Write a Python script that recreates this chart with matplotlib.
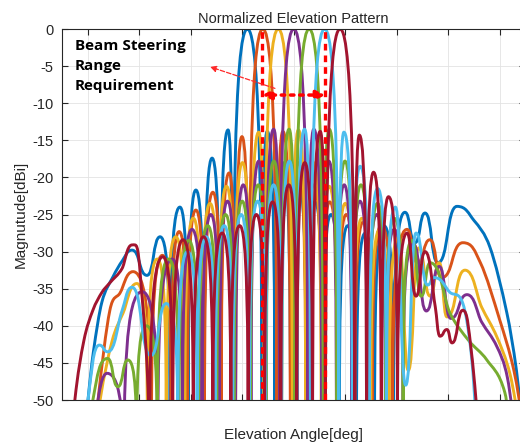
import matplotlib
matplotlib.use("Agg")
import matplotlib.pyplot as plt
from matplotlib.path import Path
from matplotlib.patches import PathPatch

plt.rcParams['font.family'] = ['Liberation Sans', 'DejaVu Sans']
plt.rcParams['axes.unicode_minus'] = False

# lobe peaks / nulls: (elevation angle [deg], magnitude [dB])
beam_m18 = [(-82.0, -58), (-79.9, -50), (-77.8, -43.5), (-74.5, -36.8), (-70.2, -33.4), (-66.5, -31.2),
            (-62.8, -29.8), (-57.0, -33.2), (-51.9, -28.0), (-48.0, -52), (-44.2, -24.0), (-41.0, -58),
            (-38.0, -21.7), (-34.8, -60), (-31.7, -17.4), (-28.6, -62), (-25.5, -13.6), (-23.7, -62),
            (-18.0, 0.0), (-12.3, -62), (-10.3, -13.8), (-7.3, -62), (-4.3, -18.0), (-1.2, -60),
            (1.9, -21.0), (5.0, -58), (8.2, -23.3), (11.3, -56), (14.5, -25.0), (17.7, -56),
            (21.0, -26.5), (24.4, -55), (27.8, -27.5), (31.4, -55), (35.0, -26.5), (38.8, -52),
            (43.2, -24.7), (47.1, -28.8), (51.0, -24.8), (56.0, -31.5), (63.4, -23.9), (70.0, -25.8),
            (76.2, -29.4), (82.8, -38.3), (86.5, -46.0), (89.0, -54)]

beam_m12 = [(-77.5, -57), (-76.0, -50), (-71.4, -37.9), (-67.5, -35.6), (-62.4, -32.7), (-55.3, -58),
            (-51.0, -30.5), (-47.6, -55), (-44.5, -27.3), (-41.3, -56), (-38.0, -24.4), (-34.7, -58),
            (-31.4, -22.0), (-28.2, -60), (-25.1, -19.4), (-22.6, -62), (-20.1, -14.5), (-17.5, -62),
            (-12.0, 0.0), (-6.5, -62), (-4.2, -13.8), (-1.3, -62), (1.7, -18.0), (4.7, -60),
            (7.8, -21.0), (10.9, -58), (14.0, -23.3), (17.2, -56), (20.4, -25.0), (23.7, -56),
            (27.0, -26.0), (30.5, -55), (34.0, -26.5), (38.3, -56), (44.0, -27.0), (48.0, -31.5),
            (52.9, -28.4), (57.5, -33.5), (65.7, -28.8), (72.5, -31.5), (80.0, -39.2), (85.5, -46.0),
            (89.5, -54)]

beam_m6 = [(-77.0, -56), (-75.2, -50), (-70.5, -42.0), (-66.3, -38.3), (-60.9, -34.3), (-56.8, -57),
           (-53.0, -31.0), (-49.5, -56), (-45.8, -28.0), (-42.3, -57), (-39.0, -25.5), (-35.8, -57),
           (-32.5, -23.5), (-29.3, -58), (-26.1, -21.2), (-23.0, -60), (-19.9, -18.0), (-16.8, -62),
           (-13.6, -13.9), (-11.5, -62), (-6.0, 0.0), (-0.5, -62), (1.8, -13.6), (4.7, -62),
           (7.7, -18.0), (10.7, -60), (13.8, -21.2), (16.9, -58), (20.0, -23.5), (23.2, -57),
           (26.5, -25.5), (29.9, -56), (33.4, -27.0), (37.0, -56), (40.8, -28.0), (44.5, -46),
           (48.5, -29.5), (53.0, -36.0), (56.5, -31.5), (59.5, -38.8), (66.5, -32.5), (73.0, -37.5),
           (78.9, -41.5), (84.0, -46.5), (88.0, -54)]

beam_0 = [(-79.5, -60), (-72.5, -46.4), (-66.0, -62), (-58.9, -35.4), (-52.8, -58), (-47.2, -31.0),
          (-43.2, -57), (-39.5, -27.0), (-35.6, -58), (-32.2, -25.0), (-28.9, -58), (-25.7, -23.2),
          (-22.6, -59), (-19.6, -21.0), (-16.6, -60), (-13.6, -17.8), (-10.9, -62), (-7.8, -13.5),
          (-5.5, -62), (0.0, 0.0), (5.5, -62), (7.8, -13.5), (10.9, -62), (13.6, -17.8),
          (16.6, -60), (19.6, -21.0), (22.6, -59), (25.7, -23.2), (28.9, -58), (32.2, -25.0),
          (35.6, -57), (39.0, -27.0), (42.5, -50), (46.5, -29.0), (51.5, -38.0), (56.5, -32.0),
          (61.0, -39.0), (67.3, -35.8), (73.0, -39.5), (78.9, -42.8), (83.0, -47.0), (86.5, -56)]

beam_p6 = [(-79.5, -58), (-78.0, -50), (-72.3, -44.4), (-68.3, -48.2), (-64.4, -44.6), (-61.0, -58),
           (-57.2, -40.0), (-53.0, -57), (-48.6, -31.0), (-44.6, -57), (-40.8, -28.5), (-37.0, -57),
           (-33.4, -26.5), (-29.9, -58), (-26.5, -25.0), (-23.2, -58), (-20.0, -23.2), (-16.9, -59),
           (-13.8, -21.0), (-10.7, -60), (-7.7, -17.8), (-4.7, -62), (-1.8, -13.5), (0.5, -62),
           (6.0, 0.0), (11.5, -62), (13.8, -13.5), (16.8, -62), (19.9, -17.8), (23.0, -60),
           (26.1, -21.0), (29.3, -58), (32.5, -23.5), (35.8, -57), (39.0, -25.5), (42.5, -50),
           (46.0, -28.5), (49.5, -36.0), (53.0, -31.5), (60.7, -38.3), (68.0, -42.0), (75.0, -44.6),
           (82.0, -49.0), (85.0, -57)]

beam_p12 = [(-81.0, -57), (-79.9, -50), (-75.5, -42.6), (-72.2, -43.5), (-66.7, -38.0), (-62.8, -34.8),
            (-55.5, -44.0), (-49.5, -37.0), (-45.0, -56), (-41.2, -30.0), (-37.5, -57), (-34.0, -28.0),
            (-30.5, -57), (-27.0, -26.5), (-23.7, -58), (-20.4, -25.0), (-17.2, -58), (-14.0, -23.2),
            (-10.9, -59), (-7.8, -21.0), (-4.7, -60), (-1.7, -17.8), (1.3, -62), (4.2, -13.5),
            (6.5, -62), (12.0, 0.0), (17.5, -62), (19.5, -13.9), (22.8, -62), (25.8, -18.5),
            (29.3, -60), (32.6, -21.5), (36.0, -58), (39.5, -24.0), (43.5, -48), (47.5, -27.5),
            (52.0, -34.5), (54.5, -33.5), (60.7, -35.5), (65.7, -37.0), (69.0, -44.0), (71.5, -56)]

beam_p18 = [(-86.5, -58), (-85.0, -50), (-81.5, -42.0), (-78.0, -37.9), (-74.5, -35.5), (-71.4, -34.2),
            (-66.7, -32.3), (-62.8, -29.1), (-59.5, -33.5), (-56.0, -60), (-50.8, -30.7), (-47.0, -56),
            (-43.0, -28.4), (-39.0, -56), (-35.0, -28.0), (-31.4, -56), (-27.8, -27.5), (-24.4, -56),
            (-21.0, -26.5), (-17.7, -57), (-14.5, -25.0), (-11.3, -57), (-8.2, -23.3), (-5.0, -58),
            (-1.9, -21.0), (1.2, -60), (4.3, -18.0), (7.3, -62), (10.3, -13.8), (12.3, -62),
            (18.0, 0.0), (23.7, -62), (25.5, -14.3), (28.3, -62), (31.0, -19.3), (34.0, -60),
            (36.8, -22.6), (40.3, -55), (44.0, -27.5), (47.5, -36.0), (51.0, -30.0), (55.0, -37.5),
            (56.8, -41.4), (59.5, -40.5), (61.5, -42.3), (65.7, -37.9), (69.0, -43.5), (72.5, -57)]

beams = [beam_m18, beam_m12, beam_m6, beam_0, beam_p6, beam_p12, beam_p18]
beam_colors = ['#0072BD', '#D95319', '#EDB120', '#7E2F8E', '#77AC30', '#4DBEEE', '#A2142F']

steer_range = [-12.3, 12.3]   # requirement limits [deg]
x_ticks = list(range(-80, 81, 20))
y_ticks = list(range(-50, 1, 5))


def lobe_path(pts, k_flat=0.9, k_null=0.55, k_soft=0.55):
    # smooth bezier through the read peaks / nulls
    x = [p[0] for p in pts]
    y = [p[1] for p in pts]
    n = len(pts)

    def kind(i):
        if i == 0 or i == n - 1:
            return 'end'
        if y[i] < y[i - 1] and y[i] < y[i + 1]:
            return 'null' if y[i] <= -50 else 'flat'
        if y[i] > y[i - 1] and y[i] > y[i + 1]:
            return 'flat'
        return 'pass'

    def handle(i, j):
        dx, dy = x[j] - x[i], y[j] - y[i]
        ki = kind(i)
        if ki == 'end':
            return (x[i] + dx / 3, y[i] + dy / 3)
        if ki == 'null':
            return (x[i], y[i] + k_null * dy)
        if ki == 'flat':
            k = k_flat if kind(j) == 'null' else k_soft
            return (x[i] + k * dx, y[i])
        s = (y[i + 1] - y[i - 1]) / (x[i + 1] - x[i - 1])
        return (x[i] + dx / 3, y[i] + s * dx / 3)

    verts = [(x[0], y[0])]
    codes = [Path.MOVETO]
    for i in range(n - 1):
        verts += [handle(i, i + 1), handle(i + 1, i), (x[i + 1], y[i + 1])]
        codes += [Path.CURVE4] * 3
    return Path(verts, codes)


fig = plt.figure(figsize=(5.2, 4.47), dpi=100)
ax = fig.add_axes([0.1192, 0.1051, 0.8913, 0.830])

for pts, c in zip(beams, beam_colors):
    ax.add_patch(PathPatch(lobe_path(pts), facecolor='none', edgecolor=c, lw=2.1,
                           joinstyle='round', capstyle='round'))

for xv in steer_range:
    ax.axvline(xv, color='red', lw=2.4, ls=(0, (2, 1.5)), zorder=4)

ax.annotate('', xy=(steer_range[0], -8.9), xytext=(steer_range[1], -8.9),
            arrowprops=dict(arrowstyle='<|-|>', color='red', lw=2.5, ls=':',
                            mutation_scale=13, shrinkA=0, shrinkB=0), zorder=5)
ax.annotate('', xy=(-32.5, -5.1), xytext=(-7.3, -8.0),
            arrowprops=dict(arrowstyle='-|>', color='#ff2a2a', lw=0.9, ls='--',
                            mutation_scale=9, shrinkA=0, shrinkB=0), zorder=5)
ax.text(-85, -1.3, 'Beam Steering\nRange\nRequirement', fontsize=11, fontweight='bold',
        family=['Open Sans', 'DejaVu Sans'], va='top', ha='left', linespacing=1.55, zorder=6)

ax.set_xlim(-90, 90)
ax.set_ylim(-50, 0)
ax.set_xticks(x_ticks)
ax.set_yticks(y_ticks)
ax.tick_params(direction='in', length=4, width=0.8, color='#262626', top=True, right=True,
               labelbottom=False, labelsize=10.5, labelcolor='#262626', pad=6)
ax.grid(True, color='#e3e3e3', lw=0.6)
ax.set_axisbelow(True)
for sp in ax.spines.values():
    sp.set_color('#262626')
    sp.set_linewidth(0.8)

ax.set_title('Normalized Elevation Pattern', fontsize=10.5, color='#262626', pad=4)
ax.set_xlabel('Elevation Angle[deg]', fontsize=11, color='#262626')
ax.xaxis.set_label_coords(0.5, -0.076)
ax.set_ylabel('Magnutude[dBi]', fontsize=11, color='#262626')
ax.yaxis.set_label_coords(-0.073, 0.5)

fig.savefig('out.png', dpi=100)
